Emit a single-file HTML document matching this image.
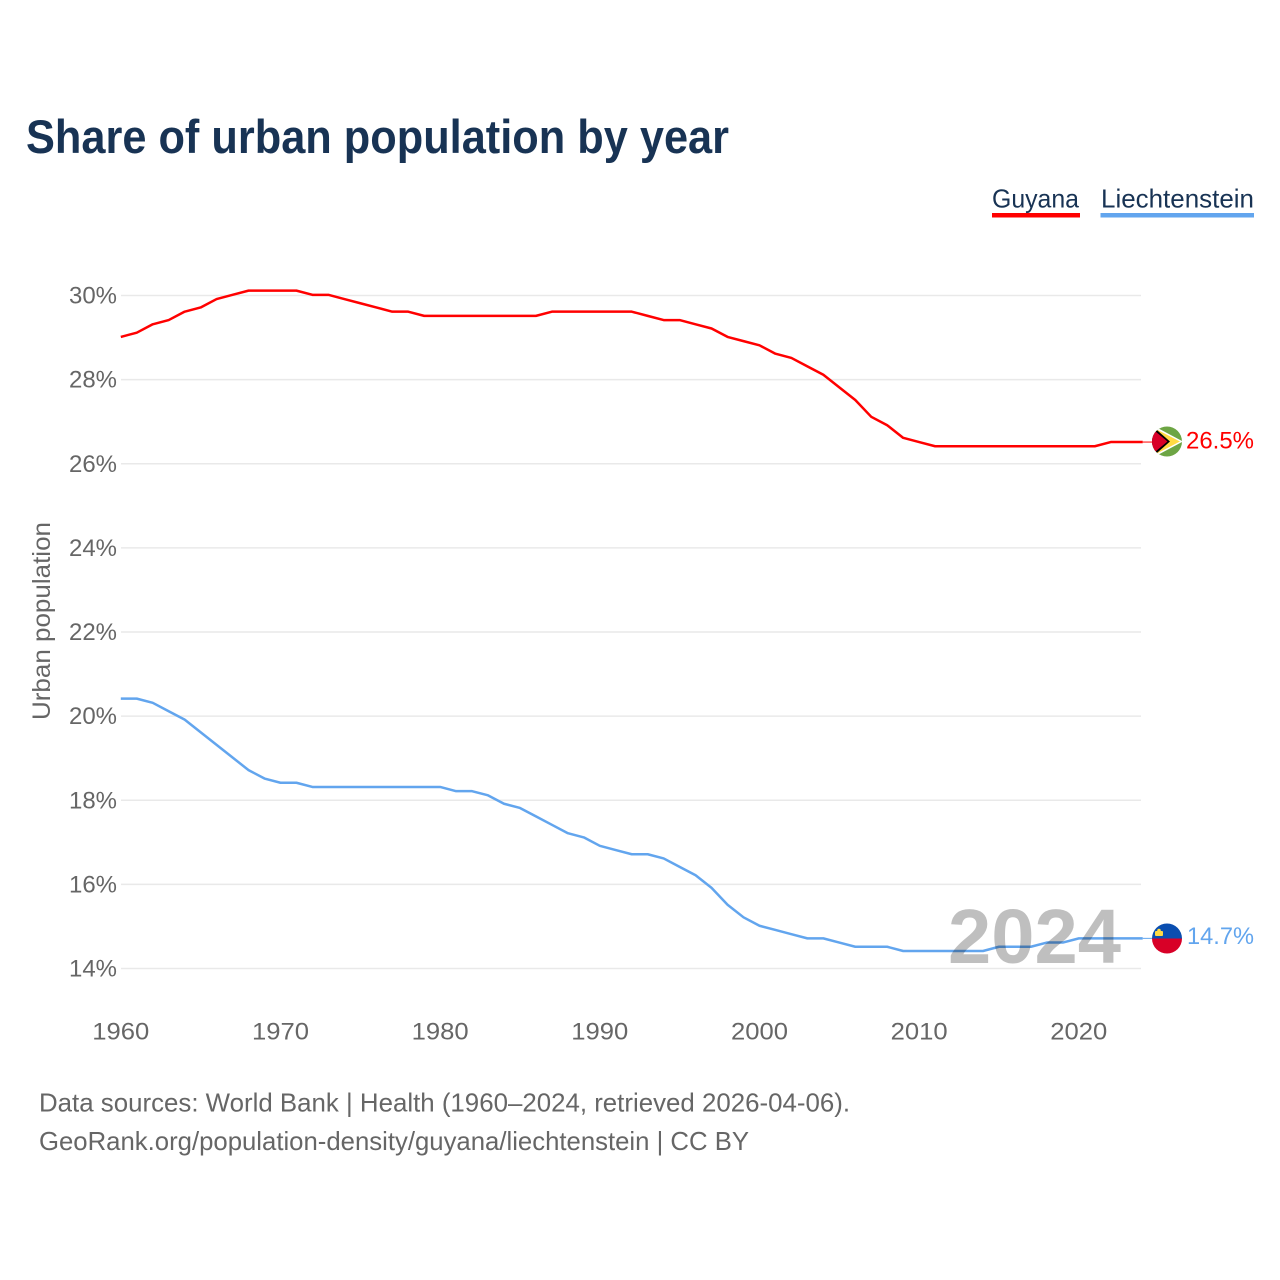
<!DOCTYPE html>
<html lang="en">
<head>
<meta charset="utf-8">
<title>Share of urban population by year</title>
<style>
html,body{margin:0;padding:0;background:#fff;}
svg{display:block;font-family:"Liberation Sans",sans-serif;}
</style>
</head>
<body>
<svg id="chart" xmlns="http://www.w3.org/2000/svg" width="1280" height="1280" viewBox="0 0 1280 1280">
  <rect width="1280" height="1280" fill="#fff"/>
  <text x="26" y="153" font-size="47" font-weight="700" fill="#183354" textLength="703" lengthAdjust="spacingAndGlyphs">Share of urban population by year</text>

  <g id="grid"></g>
  <g id="yticks"></g>
  <g id="xticks"></g>

  <text transform="translate(50,720) rotate(-90)" x="0" y="0" font-size="25" fill="#666" textLength="198" lengthAdjust="spacingAndGlyphs">Urban population</text>

  <g id="series" transform="translate(0,-0.7)"></g>

  <text x="948" y="963" font-size="77" font-weight="700" fill="#000" fill-opacity="0.25" textLength="173" lengthAdjust="spacingAndGlyphs">2024</text>

  <g>
    <text x="992" y="207.500" font-size="26" fill="#183354" textLength="87" lengthAdjust="spacingAndGlyphs">Guyana</text>
    <rect x="992" y="213" width="88" height="4.5" fill="#ff0000"/>
  </g>
  <g>
    <text x="1101" y="207.500" font-size="26" fill="#183354" textLength="153" lengthAdjust="spacingAndGlyphs">Liechtenstein</text>
    <rect x="1100.500" y="213" width="153.500" height="4.5" fill="#62a5ee"/>
  </g>

  <defs>
    <clipPath id="flag-clip-gy"><circle cx="1167" cy="441.500" r="15"/></clipPath>
    <clipPath id="flag-clip-li"><circle cx="1167" cy="938.500" r="15"/></clipPath>
  </defs>
  <g clip-path="url(#flag-clip-gy)">
    <rect x="1152" y="426" width="30" height="31" fill="#6da544"/>
    <polygon points="1152,425 1183,441.500 1152,458" fill="#fff"/>
    <polygon points="1152,427 1180,441.500 1152,456" fill="#ffda44"/>
    <polygon points="1150,424 1170,441.500 1150,459" fill="#000"/>
    <polygon points="1150,427 1167.500,441.500 1150,456" fill="#d80027"/>
  </g>
  <g clip-path="url(#flag-clip-li)">
    <rect x="1152" y="923" width="30" height="15.500" fill="#0a4eb0"/>
    <rect x="1152" y="938.500" width="30" height="15.500" fill="#d80027"/>
    <rect x="1155" y="931" width="8" height="5" rx="1" fill="#ffda44"/>
    <circle cx="1159" cy="930.500" r="1.800" fill="#ffda44"/>
  </g>
  <text x="1186" y="448.500" font-size="24.500" fill="#ff0000" textLength="68" lengthAdjust="spacingAndGlyphs">26.5%</text>
  <text x="1187" y="944" font-size="24.500" fill="#62a5ee" textLength="67" lengthAdjust="spacingAndGlyphs">14.7%</text>

  <text x="39" y="1111.500" font-size="26" fill="#666" textLength="811" lengthAdjust="spacingAndGlyphs">Data sources: World Bank | Health (1960–2024, retrieved 2026-04-06).</text>
  <text x="39" y="1150" font-size="26" fill="#666" textLength="710" lengthAdjust="spacingAndGlyphs">GeoRank.org/population-density/guyana/liechtenstein | CC BY</text>
</svg>
<script>
const startYear = 1960;
const yTicks = [14, 16, 18, 20, 22, 24, 26, 28, 30];
const xTicks = [1960, 1970, 1980, 1990, 2000, 2010, 2020];
const guyana = [29.0,29.1,29.3,29.4,29.6,29.7,29.9,30.0,30.1,30.1,30.1,30.1,30.0,30.0,29.9,29.8,29.7,29.6,29.6,29.5,29.5,29.5,29.5,29.5,29.5,29.5,29.5,29.6,29.6,29.6,29.6,29.6,29.6,29.5,29.4,29.4,29.3,29.2,29.0,28.9,28.8,28.6,28.5,28.3,28.1,27.8,27.5,27.1,26.9,26.6,26.5,26.4,26.4,26.4,26.4,26.4,26.4,26.4,26.4,26.4,26.4,26.4,26.5,26.5,26.5];
const liechtenstein = [20.4,20.4,20.3,20.1,19.9,19.6,19.3,19.0,18.7,18.5,18.4,18.4,18.3,18.3,18.3,18.3,18.3,18.3,18.3,18.3,18.3,18.2,18.2,18.1,17.9,17.8,17.6,17.4,17.2,17.1,16.9,16.8,16.7,16.7,16.6,16.4,16.2,15.9,15.5,15.2,15.0,14.9,14.8,14.7,14.7,14.6,14.5,14.5,14.5,14.4,14.4,14.4,14.4,14.4,14.4,14.5,14.5,14.5,14.6,14.6,14.7,14.7,14.7,14.7,14.7];

const NS = 'http://www.w3.org/2000/svg';
const xScale = function (year) { return 120.8 + (year - 1960) * 15.967; };
const yScale = function (v) { return 968.5 - (v - 14) * 42.06; };

const gridG = document.getElementById('grid');
const yG = document.getElementById('yticks');
const xG = document.getElementById('xticks');
const seriesG = document.getElementById('series');

yTicks.forEach(function (t) {
  const line = document.createElementNS(NS, 'line');
  
  
  line.setAttribute('x1', 121);
  line.setAttribute('x2', 1141);
  line.setAttribute('y1', yScale(t));
  line.setAttribute('y2', yScale(t));
  line.setAttribute('stroke', '#e9e9e9');
  line.setAttribute('stroke-width', 1.5);
  gridG.appendChild(line);

  const label = document.createElementNS(NS, 'text');
  
  
  label.setAttribute('x', 117);
  label.setAttribute('y', yScale(t) + 8);
  label.setAttribute('text-anchor', 'end');
  label.setAttribute('font-size', 24);
  label.setAttribute('fill', '#666');
  label.setAttribute('textLength', 48);
  label.setAttribute('lengthAdjust', 'spacingAndGlyphs');
  label.textContent = t + '%';
  yG.appendChild(label);
});

xTicks.forEach(function (t) {
  const label = document.createElementNS(NS, 'text');
  
  
  label.setAttribute('x', xScale(t));
  label.setAttribute('y', 1039.5);
  label.setAttribute('text-anchor', 'middle');
  label.setAttribute('font-size', 24);
  label.setAttribute('fill', '#666');
  label.setAttribute('textLength', 57);
  label.setAttribute('lengthAdjust', 'spacingAndGlyphs');
  label.textContent = t;
  xG.appendChild(label);
});

function pathFor(values) {
  return values.map(function (v, i) {
    return (i ? 'L' : 'M') + xScale(startYear + i).toFixed(2) + ' ' + yScale(v).toFixed(2);
  }).join(' ');
}

const guyanaLine = document.createElementNS(NS, 'path');


guyanaLine.setAttribute('d', pathFor(guyana));
guyanaLine.setAttribute('fill', 'none');
guyanaLine.setAttribute('stroke', '#ff0000');
guyanaLine.setAttribute('stroke-width', 2.5);
guyanaLine.setAttribute('stroke-linejoin', 'round');
seriesG.appendChild(guyanaLine);

const liechtensteinLine = document.createElementNS(NS, 'path');


liechtensteinLine.setAttribute('d', pathFor(liechtenstein));
liechtensteinLine.setAttribute('fill', 'none');
liechtensteinLine.setAttribute('stroke', '#62a5ee');
liechtensteinLine.setAttribute('stroke-width', 2.5);
liechtensteinLine.setAttribute('stroke-linejoin', 'round');
seriesG.appendChild(liechtensteinLine);

const guyanaLeader = document.createElementNS(NS, 'line');


guyanaLeader.setAttribute('x1', xScale(2024));
guyanaLeader.setAttribute('x2', 1153);
guyanaLeader.setAttribute('y1', yScale(guyana[guyana.length - 1]));
guyanaLeader.setAttribute('y2', yScale(guyana[guyana.length - 1]));
guyanaLeader.setAttribute('stroke', '#ff0000');
guyanaLeader.setAttribute('stroke-width', 1);
seriesG.appendChild(guyanaLeader);

const liechtensteinLeader = document.createElementNS(NS, 'line');


liechtensteinLeader.setAttribute('x1', xScale(2024));
liechtensteinLeader.setAttribute('x2', 1153);
liechtensteinLeader.setAttribute('y1', yScale(liechtenstein[liechtenstein.length - 1]));
liechtensteinLeader.setAttribute('y2', yScale(liechtenstein[liechtenstein.length - 1]));
liechtensteinLeader.setAttribute('stroke', '#62a5ee');
liechtensteinLeader.setAttribute('stroke-width', 1);
seriesG.appendChild(liechtensteinLeader);
</script>
</body>
</html>
